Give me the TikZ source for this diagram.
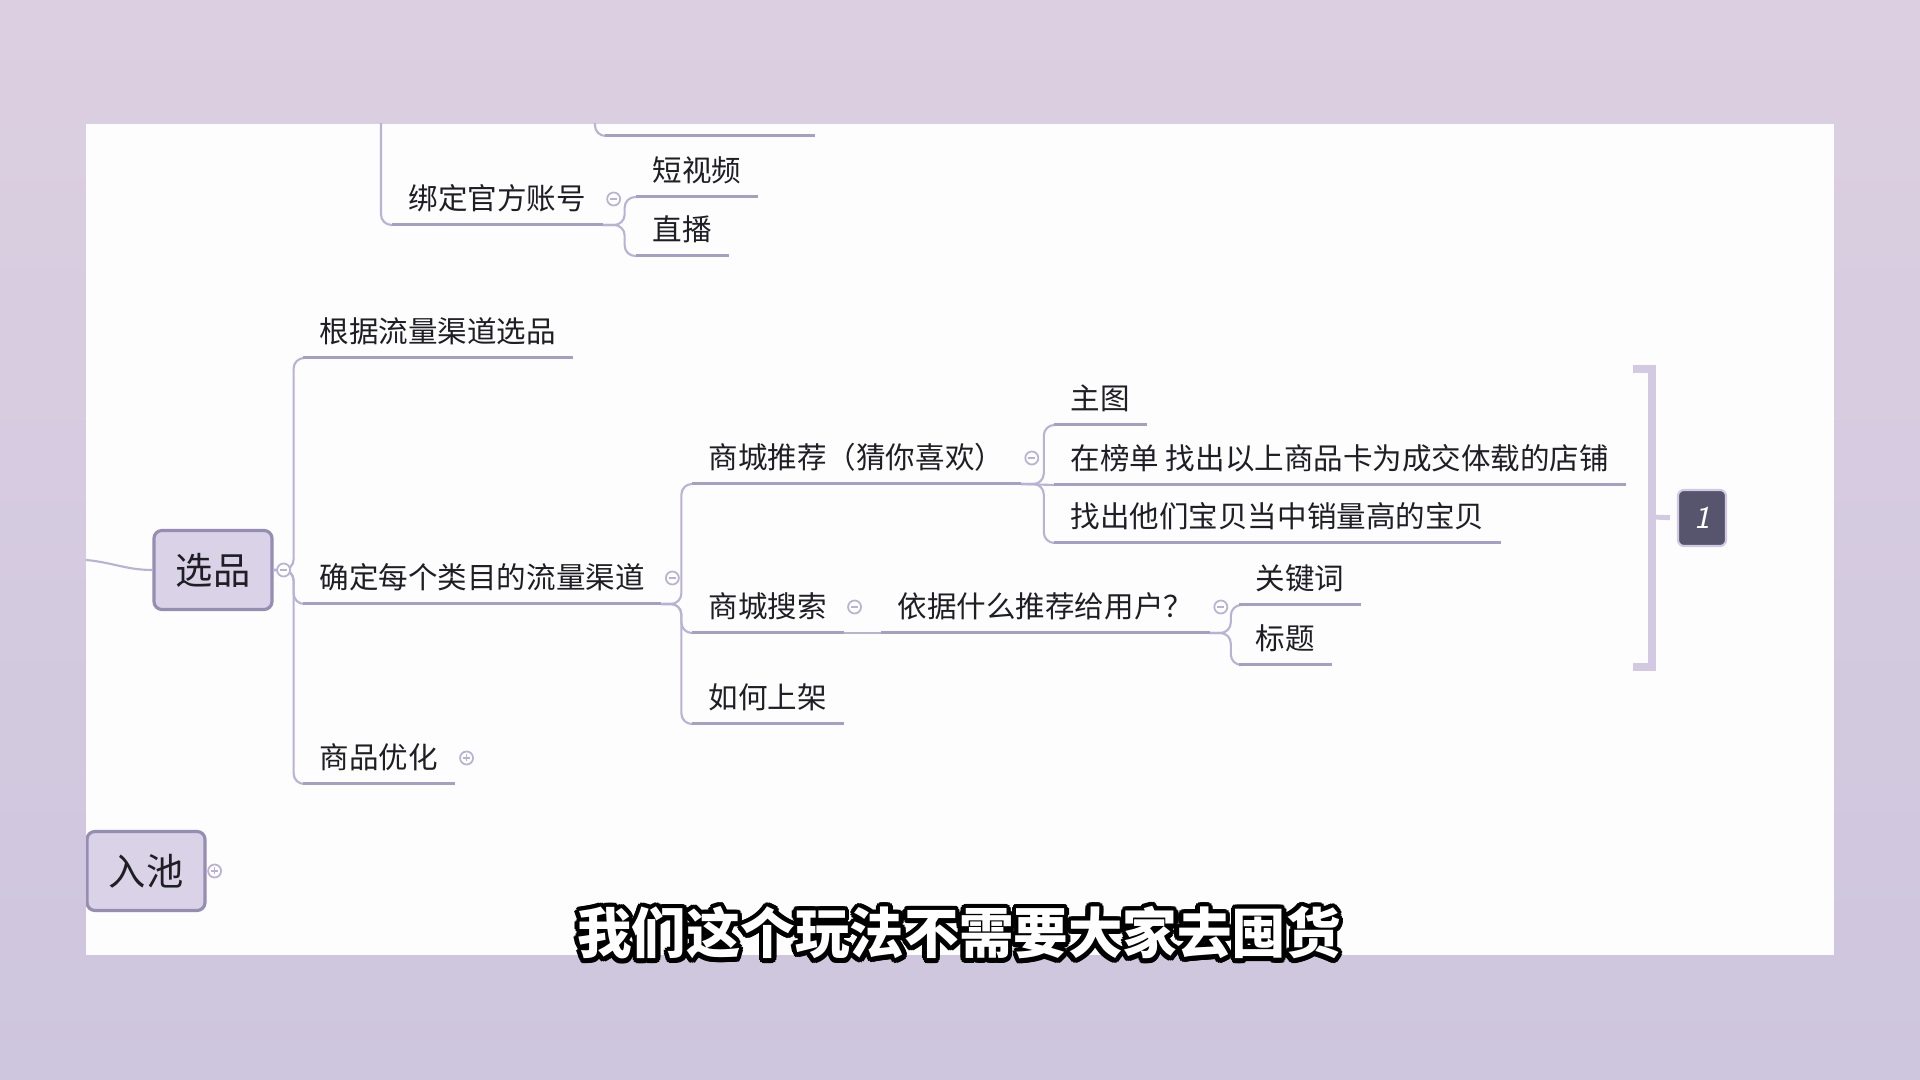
\documentclass[tikz,border=0pt]{standalone}
\usepackage{fontspec}
\newfontfamily\cjk{Noto Sans CJK SC}
\definecolor{bgtop}{HTML}{DCCFE1}
\definecolor{bgmid}{HTML}{EAE6EF}
\definecolor{bgbot}{HTML}{CEC6DE}
\definecolor{panel}{HTML}{FDFDFE}
\definecolor{ink}{HTML}{1E1E24}
\definecolor{linkc}{HTML}{BAB2D3}
\definecolor{ulinec}{HTML}{A59FC4}
\definecolor{boxfill}{HTML}{DAD2E7}
\definecolor{boxline}{HTML}{958DB2}
\definecolor{brkc}{HTML}{D3C9E2}
\definecolor{sumfill}{HTML}{57556E}

\begin{document}
\begin{tikzpicture}[x=0.01cm,y=-0.01cm,
  topic/.style={anchor=south west,inner xsep=0.16cm,inner ysep=0pt,text height=0.3cm,text depth=0.15cm,font=\cjk\fontsize{8.4}{10}\selectfont,text=ink},
  mainbox/.style={draw=boxline,fill=boxfill,line width=0.9pt,rounded corners=0.08cm,minimum width=1.18cm,minimum height=0.79cm,inner sep=0pt,font=\cjk\fontsize{10.6}{12}\selectfont,text=ink},
  link/.style={draw=linkc,line width=0.6pt,rounded corners=3pt},
  uline/.style={draw=ulinec,line width=0.85pt},
  fold/.style={circle,draw=linkc,fill=white,line width=0.5pt,minimum size=0.13cm,inner sep=0pt,
    path picture={\draw[linkc,line width=0.4pt]([xshift=-0.035cm]path picture bounding box.center)--([xshift=0.035cm]path picture bounding box.center);}},
  unfold/.style={fold,
    path picture={\draw[linkc,line width=0.4pt]([xshift=-0.035cm]path picture bounding box.center)--([xshift=0.035cm]path picture bounding box.center)
      ([yshift=-0.035cm]path picture bounding box.center)--([yshift=0.035cm]path picture bounding box.center);}},
  subtitle/.style={font=\cjk\bfseries\fontsize{15.5}{18}\selectfont,inner sep=0pt}]

  \useasboundingbox (0,0) rectangle (1920,1080);
  \shade[top color=bgtop,middle color=bgmid,bottom color=bgbot] (0,0) rectangle (1920,1080);
  \fill[panel] (86,124) rectangle (1834,955);

  \begin{scope}
  \clip (86,124) rectangle (1834,955);
  \node[mainbox] (xp) at (213,570) {选品};
  \node[mainbox] (rc) at (146,871) {入池};

  \node[topic] (bd) at (392,225) {绑定官方账号};
  \node[topic] (dsp) at (636,197) {短视频};
  \node[topic] (zb) at (636,256) {直播};
  \node[topic] (gj) at (303,358) {根据流量渠道选品};
  \node[topic] (qd) at (303,604) {确定每个类目的流量渠道};
  \node[topic] (yh) at (303,784) {商品优化};
  \node[topic] (tj) at (692,484) {商城推荐（猜你喜欢）};
  \node[topic] (ss) at (692,633) {商城搜索};
  \node[topic] (sj) at (692,724) {如何上架};
  \node[topic] (zt) at (1054,425) {主图};
  \node[topic] (bd2) at (1054,485) {在榜单 找出以上商品卡为成交体载的店铺};
  \node[topic] (zc) at (1054,543) {找出他们宝贝当中销量高的宝贝};
  \node[topic] (yj) at (881,633) {依据什么推荐给用户？};
  \node[topic] (gjc) at (1239,605) {关键词};
  \node[topic] (bt) at (1239,665) {标题};

  \coordinate (lin) at (86,560);
  \coordinate (top1) at (381,100);
  \coordinate (top2) at (595,100);
  \coordinate (cutl) at (605,136);
  \coordinate (cutr) at (815,136);

  \draw[link] (lin) to[out=-5,in=180] (xp.west);
  \draw[link] (top1) |- (bd.south west);
  \draw[link] (top2) |- (cutl);
  \foreach \c in {gj,qd,yh} \draw[link] (xp.east) -- ++(20,0) |- (\c.south west);
  \foreach \c in {dsp,zb} \draw[link] (bd.south east) -- ++(22,0) |- (\c.south west);
  \foreach \c in {tj,ss,sj} \draw[link] (qd.south east) -- ++(20,0) |- (\c.south west);
  \foreach \c in {zt,zc} \draw[link] (tj.south east) -- ++(23,0) |- (\c.south west);
  \draw[link] (tj.south east) -- (bd2.south west);
  \draw[link] (ss.south east) -- (yj.south west);
  \foreach \c in {gjc,bt} \draw[link] (yj.south east) -- ++(21,0) |- (\c.south west);

  \draw[uline] (cutl) -- (cutr);
  \foreach \n in {bd,dsp,zb,gj,qd,yh,tj,ss,sj,zt,bd2,zc,yj,gjc,bt} \draw[uline] (\n.south west) -- (\n.south east);

  \node[fold] (f1) at ([shift={(10,0)}]xp.east) {};
  \node[unfold] (f2) at ([shift={(8,0)}]rc.east) {};
  \foreach \n in {bd,qd,tj,ss,yj} \node[fold] (f\n) at ([shift={(11,-26)}]\n.south east) {};
  \node[unfold] (fyh) at ([shift={(12,-26)}]yh.south east) {};

  \draw[brkc,line width=2.3pt] (1633,369) -- (1652,369) -- (1652,667) -- (1633,667);
  \coordinate (brkmid) at (1652,517);
  \node[fill=sumfill,draw=brkc,line width=0.6pt,rounded corners=0.06cm,minimum width=0.48cm,minimum height=0.56cm,inner sep=0pt,text=white,font=\sffamily\slshape\fontsize{9}{10}\selectfont] (sum) at (1702,518) {1};
  \draw[brkc,line width=1.4pt,shorten >=0.07cm] (brkmid) -- (sum.west);
  \end{scope}

  \foreach \a [count=\i] in {0,22.5,...,337.5}
    \node[subtitle,text=black,shift={(\a:4.5)}] (subo\i) at (959,933) {我们这个玩法不需要大家去囤货};
  \node[subtitle,text=white] (sub) at (959,933) {我们这个玩法不需要大家去囤货};
\end{tikzpicture}
\end{document}
